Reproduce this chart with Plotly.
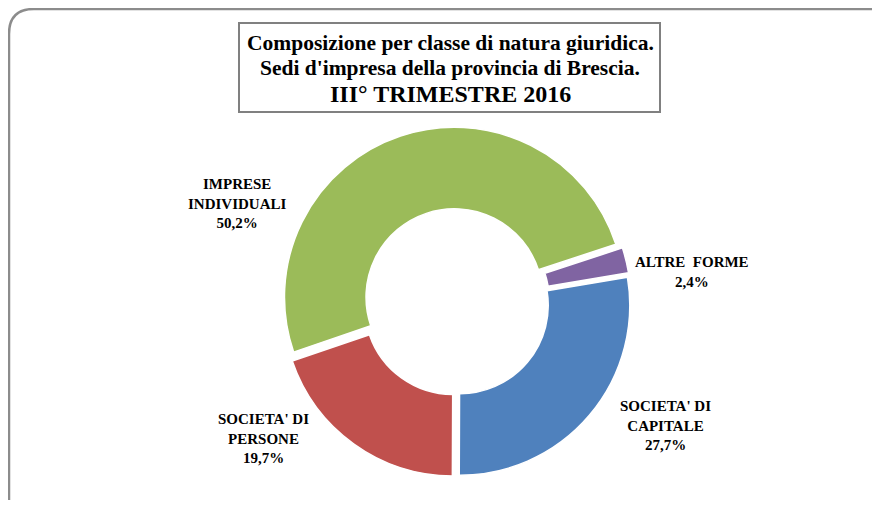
import plotly.graph_objects as go

# data
categories = ["SOCIETA' DI CAPITALE", "SOCIETA' DI PERSONE", "IMPRESE INDIVIDUALI", "ALTRE FORME"]
values = [27.7, 19.7, 50.2, 2.4]
colors = ["#4F81BD", "#C0504D", "#9BBB59", "#8064A2"]
label_lines = [["SOCIETA' DI", "CAPITALE"], ["SOCIETA' DI", "PERSONE"],
               ["IMPRESE", "INDIVIDUALI"], ["ALTRE  FORME"]]
title_lines = ["Composizione per classe di natura giuridica.",
               "Sedi d'impresa della provincia di Brescia.",
               "III° TRIMESTRE 2016"]

# the page body has an 8px margin, so the figure sits at (8, 8) in the window;
# keep it small enough that the page never scrolls
OFF = 8
W, H = 872, 497


def px(x):
    return (x - OFF) / W


def py(y):
    return 1 - (y - OFF) / H


fig = go.Figure()

fig.add_trace(go.Pie(
    labels=categories,
    values=values,
    sort=False,
    direction="clockwise",
    rotation=80.5,
    hole=0.52,
    pull=[0.03] * len(values),
    marker=dict(colors=colors, line=dict(color="white", width=1.5)),
    textinfo="none",
    hoverinfo="label+percent",
    showlegend=False,
    domain=dict(x=[px(456 - 175), px(456 + 175)], y=[py(302 + 175), py(302 - 175)]),
))

serif = "Liberation Serif, Times New Roman, serif"

# slice labels (placed outside, like the original)
label_pos = [(665, 425), (263, 438), (237, 203), (692, 272)]
for lines, v, (lx, ly) in zip(label_lines, values, label_pos):
    txt = "<br>".join(lines + [f"{v:.1f}%".replace(".", ",")])
    fig.add_annotation(x=px(lx), y=py(ly), xref="paper", yref="paper",
                       text="<b>" + txt + "</b>", showarrow=False,
                       align="center", xanchor="center", yanchor="middle",
                       font=dict(family=serif, size=15, color="#000000"))

# title box
fig.add_shape(type="rect", xref="paper", yref="paper",
              x0=px(239), x1=px(660), y0=py(112), y1=py(23),
              line=dict(color="#808080", width=2), fillcolor="white", layer="below")
title_y = [43, 68, 94]
title_size = [21.5, 21.5, 24]
for t, ty, ts in zip(title_lines, title_y, title_size):
    fig.add_annotation(x=px(450), y=py(ty), xref="paper", yref="paper",
                       text="<b>" + t + "</b>", showarrow=False,
                       xanchor="center", yanchor="middle",
                       font=dict(family=serif, size=ts, color="#000000"))

# outer rounded border
r = 25
x0, y0, x1, y1 = 9, 9, 905, 525
path = (f"M {px(x0)},{py(y1 - r)} L {px(x0)},{py(y0 + r)} "
        f"Q {px(x0)},{py(y0)} {px(x0 + r)},{py(y0)} "
        f"L {px(x1)},{py(y0)}")
fig.add_shape(type="path", xref="paper", yref="paper", path=path,
              line=dict(color="#8C8C8C", width=2.5))

fig.update_layout(
    width=W, height=H,
    margin=dict(l=0, r=0, t=0, b=0, pad=0),
    paper_bgcolor="white",
    plot_bgcolor="white",
)

fig.write_html("out.html")
